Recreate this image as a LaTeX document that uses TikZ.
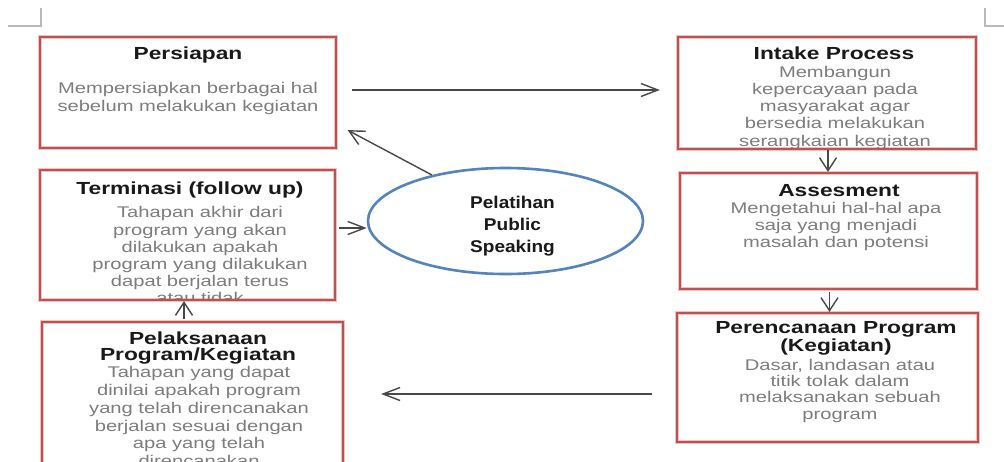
\documentclass[tikz,border=0pt]{standalone}
\usepackage{fontspec}
\setmainfont{Liberation Sans}[FakeStretch=1.3]
\newfontfamily\ellfont{Liberation Sans}[FakeStretch=1.12]
\usetikzlibrary{arrows.meta,calc,shapes.geometric}
\definecolor{boxred}{RGB}{192,80,77}
\definecolor{boxhalo}{RGB}{236,196,196}
\definecolor{ellblue}{RGB}{84,132,186}
\definecolor{bodygray}{RGB}{125,125,125}
\definecolor{titleblack}{RGB}{25,25,25}
\definecolor{arrowgray}{RGB}{72,72,72}
\definecolor{cornergray}{RGB}{185,185,185}
\tikzset{
  stagebox/.style={draw=boxred, line width=2.2pt, rectangle, inner sep=0pt,
    preaction={draw=boxhalo, line width=4.4pt}},
  ellbox/.style={draw=ellblue, line width=2.6pt, ellipse, inner sep=0pt},
  titletext/.style={font=\fontsize{17.5}{18.4}\selectfont\bfseries, text=titleblack, inner sep=0pt, align=center},
  bodytext/.style={font=\fontsize{15.5}{17.3}\selectfont, text=bodygray, inner sep=0pt, align=center},
  elltext/.style={font=\ellfont\fontsize{17}{22}\selectfont\bfseries, text=titleblack, inner sep=0pt, align=center},
  conn/.style={draw=arrowgray, line width=1.4pt},
  harr/.style={conn, -{Straight Barb[length=17pt,width=13pt]}},
  varr/.style={conn, -{Straight Barb[length=13pt,width=17pt]}},
  darr/.style={conn, -{Straight Barb[length=15pt,width=15pt]}},
  cornermark/.style={draw=cornergray, line width=1.2pt},
}
\begin{document}
\begin{tikzpicture}[x=1pt,y=-1pt]
\useasboundingbox (0,0) rectangle (1004,461);
\clip (0,0) rectangle (1004,461);
\fill[white] (0,0) rectangle (1004,461);
% corner marks
\draw[cornermark] (8,26) -- (41,26) -- (41,8);
\draw[cornermark] (985,8) -- (985,26) -- (1004,26);
% boxes
\node[stagebox, minimum width=296pt, minimum height=111pt] (persiapan) at (188,92.5) {};
\node[stagebox, minimum width=298pt, minimum height=112pt] (intake) at (827,93) {};
\node[stagebox, minimum width=295pt, minimum height=130pt] (terminasi) at (187.5,235) {};
\node[stagebox, minimum width=297pt, minimum height=116pt] (assess) at (828.5,231) {};
\node[stagebox, minimum width=301pt, minimum height=129pt] (perenc) at (827.5,377.5) {};
\node[stagebox, minimum width=301pt, minimum height=170pt] (pelak) at (192.5,407) {};
\node[ellbox, minimum width=275pt, minimum height=106pt] (ell) at (505.5,221) {};
% texts
\begin{scope}
\clip ($(persiapan.south west)+(2.5,-2.5)$) rectangle ($(persiapan.north east)+(-2.5,2.5)$);
\node[titletext, anchor=base] (persiapanT) at (188,59.3) {Persiapan};
\node[bodytext, anchor=north, font=\fontsize{15.5}{18}\selectfont] (persiapanB) at (188,81.6) {Mempersiapkan berbagai hal\\sebelum melakukan kegiatan};
\end{scope}
\begin{scope}
\clip ($(intake.south west)+(2.5,-2.5)$) rectangle ($(intake.north east)+(-2.5,2.5)$);
\node[titletext, anchor=base] (intakeT) at (834,59.3) {Intake Process};
\node[bodytext, anchor=north, font=\fontsize{15.5}{17.1}\selectfont] (intakeB) at (835,66.2) {Membangun\\kepercayaan pada\\masyarakat agar\\bersedia melakukan\\serangkaian kegiatan};
\end{scope}
\begin{scope}
\clip ($(terminasi.south west)+(2.5,-2.5)$) rectangle ($(terminasi.north east)+(-2.5,2.5)$);
\node[titletext, anchor=base] (terminasiT) at (190,194.5) {Terminasi (follow up)};
\node[bodytext, anchor=north, font=\fontsize{15.5}{17.1}\selectfont] (terminasiB) at (200,206.5) {Tahapan akhir dari\\program yang akan\\dilakukan apakah\\program yang dilakukan\\dapat berjalan terus\\atau tidak};
\end{scope}
\begin{scope}
\clip ($(assess.south west)+(2.5,-2.5)$) rectangle ($(assess.north east)+(-2.5,2.5)$);
\node[titletext, anchor=base] (assessT) at (839,196.7) {Assesment};
\node[bodytext, anchor=north] (assessB) at (836,201.9) {Mengetahui hal-hal apa\\saja yang menjadi\\masalah dan potensi};
\end{scope}
\begin{scope}
\clip ($(perenc.south west)+(2.5,-2.5)$) rectangle ($(perenc.north east)+(-2.5,2.5)$);
\node[titletext, anchor=north] (perencT) at (836,320.8) {Perencanaan Program\\(Kegiatan)};
\node[bodytext, anchor=north, font=\fontsize{15.5}{16.3}\selectfont] (perencB) at (840,358.9) {Dasar, landasan atau\\titik tolak dalam\\melaksanakan sebuah\\program};
\end{scope}
\begin{scope}
\clip ($(pelak.south west)+(2.5,-2.5)$) rectangle ($(pelak.north east)+(-2.5,2.5)$);
\node[titletext, anchor=north, font=\fontsize{17.5}{16.9}\selectfont\bfseries] (pelakT) at (198,331.2) {Pelaksanaan\\Program/Kegiatan};
\node[bodytext, anchor=north, font=\fontsize{15.5}{17.8}\selectfont] (pelakB) at (199,366.2) {Tahapan yang dapat\\dinilai apakah program\\yang telah direncanakan\\berjalan sesuai dengan\\apa yang telah\\direncanakan};
\end{scope}
\node[elltext, anchor=north] (ellT) at (512.5,196.3) {Pelatihan\\Public\\Speaking};
% connectors
\draw[harr, shorten >=17pt] ($(persiapan.east)+(15,-2.5)$) coordinate (a1) -- (a1 -| intake.west);
\draw[darr] (ell.148) -- ($(persiapan.south east)+(10.5,-19)$) coordinate (a2);
\draw[harr] ($(terminasi.east)+(3,-7)$) coordinate (a3) -- (a3 -| ell.west);
\draw[varr] ($(intake.south)+(1,0)$) coordinate (a4) -- (a4 |- assess.north);
\draw[varr] ($(assess.south)+(1,2)$) coordinate (a5) -- (a5 |- perenc.north);
\draw[harr, shorten >=37pt] ($(perenc.west)+(-24,16.5)$) coordinate (a6) -- (a6 -| pelak.east);
\draw[varr] ($(pelak.north)+(-8.5,-2)$) coordinate (a7) -- (a7 |- terminasi.south);
\end{tikzpicture}
\end{document}
